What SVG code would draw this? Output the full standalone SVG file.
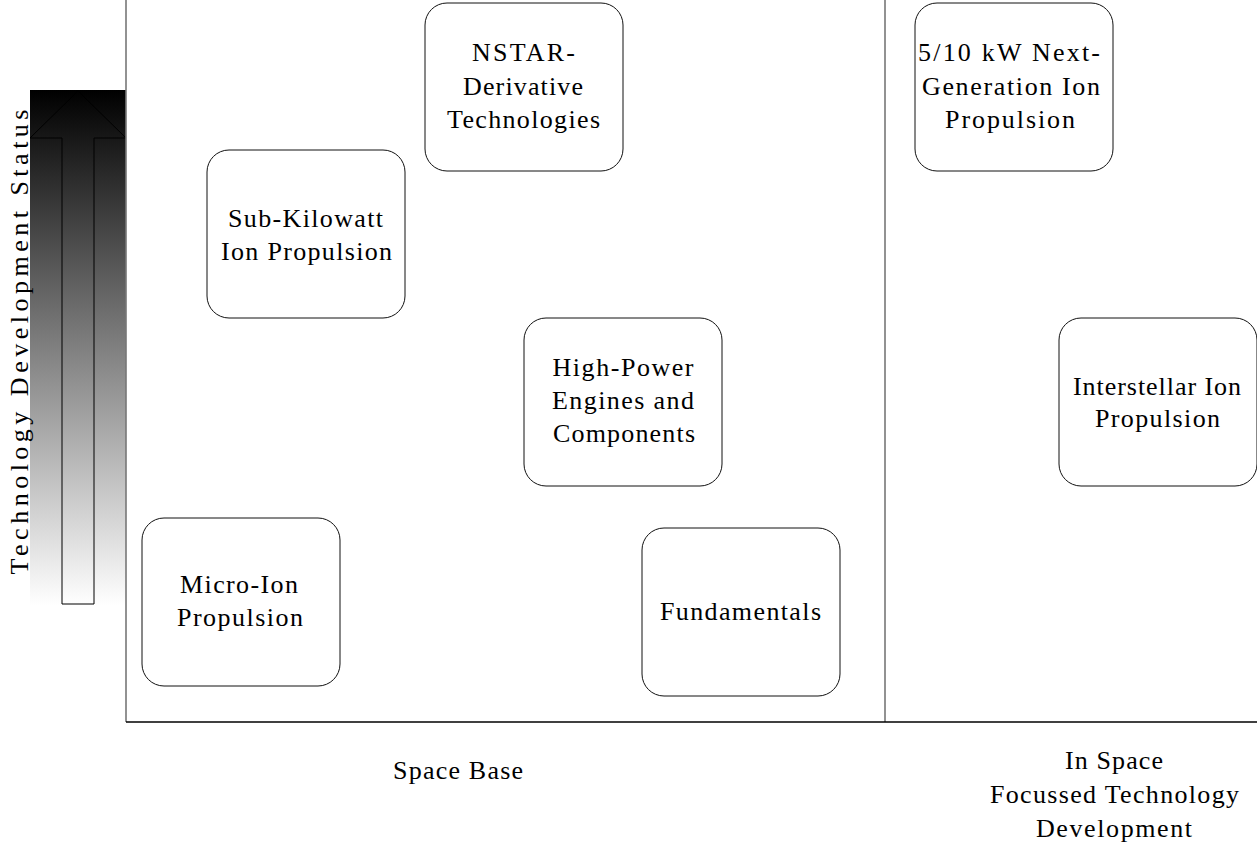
<svg xmlns="http://www.w3.org/2000/svg" width="1257" height="846" viewBox="0 0 1257 846">
<style>
.box{fill:#fff;stroke:#111;stroke-width:1}
.t{font-family:"Liberation Serif",serif;font-size:26px;fill:#000;text-anchor:middle}
.ax{stroke:#000;stroke-width:1.4;fill:none}
.gx{stroke:#777;stroke-width:1.6;fill:none}
</style>
<defs>
<linearGradient id="g" x1="0" y1="0" x2="0" y2="1">
<stop offset="0" stop-color="#000"/>
<stop offset="1" stop-color="#fff"/>
</linearGradient>
</defs>
<rect width="1257" height="846" fill="#fff"/>
<g id="status-arrow">
<rect x="30" y="90" width="96" height="515" fill="url(#g)"/>
<polygon points="78,91 126,138 94,138 94,604 62,604 62,138 30,138" fill="none" stroke="#000" stroke-width="1"/>
<text class="t" transform="translate(28,342) rotate(-90)" textLength="465" lengthAdjust="spacing">Technology Development Status</text>
</g>
<g id="connectors">
<line class="gx" x1="126" y1="0" x2="126" y2="722"/>
<line class="gx" x1="885" y1="0" x2="885" y2="722"/>
<line class="ax" x1="126" y1="722" x2="1257" y2="722"/>
</g>
<g id="nstar"><rect class="box" x="425" y="3" width="198" height="168" rx="22"/>
<text class="t" x="523.5" y="61" textLength="103" lengthAdjust="spacing">NSTAR-</text>
<text class="t" x="523" y="95" textLength="120" lengthAdjust="spacing">Derivative</text>
<text class="t" x="523.5" y="128" textLength="153" lengthAdjust="spacing">Technologies</text></g>
<g id="nextgen"><rect class="box" x="915" y="3" width="198" height="168" rx="22"/>
<text class="t" x="1009" y="61" textLength="182" lengthAdjust="spacing">5/10 kW Next-</text>
<text class="t" x="1011" y="95" textLength="178" lengthAdjust="spacing">Generation Ion</text>
<text class="t" x="1010" y="128" textLength="130" lengthAdjust="spacing">Propulsion</text></g>
<g id="subkw"><rect class="box" x="207" y="150" width="198" height="168" rx="22"/>
<text class="t" x="305.5" y="227" textLength="155" lengthAdjust="spacing">Sub-Kilowatt</text>
<text class="t" x="306.5" y="260" textLength="171" lengthAdjust="spacing">Ion Propulsion</text></g>
<g id="highpower"><rect class="box" x="524" y="318" width="198" height="168" rx="22"/>
<text class="t" x="623" y="376" textLength="141" lengthAdjust="spacing">High-Power</text>
<text class="t" x="623" y="409" textLength="142" lengthAdjust="spacing">Engines and</text>
<text class="t" x="624" y="442" textLength="142" lengthAdjust="spacing">Components</text></g>
<g id="interstellar"><rect class="box" x="1059" y="318" width="198" height="168" rx="22"/>
<text class="t" x="1157" y="395" textLength="168" lengthAdjust="spacing">Interstellar Ion</text>
<text class="t" x="1157.5" y="427" textLength="125" lengthAdjust="spacing">Propulsion</text></g>
<g id="microion"><rect class="box" x="142" y="518" width="198" height="168" rx="22"/>
<text class="t" x="239" y="593" textLength="118" lengthAdjust="spacing">Micro-Ion</text>
<text class="t" x="240" y="626" textLength="126" lengthAdjust="spacing">Propulsion</text></g>
<g id="fundamentals"><rect class="box" x="642" y="528" width="198" height="168" rx="22"/>
<text class="t" x="740.5" y="620" textLength="161" lengthAdjust="spacing">Fundamentals</text></g>
<g id="labels">
<text class="t" x="458" y="779" textLength="130" lengthAdjust="spacing">Space Base</text>
<text class="t" x="1114" y="769" textLength="98" lengthAdjust="spacing">In Space</text>
<text class="t" x="1114.5" y="803" textLength="249" lengthAdjust="spacing">Focussed Technology</text>
<text class="t" x="1114" y="837" textLength="156" lengthAdjust="spacing">Development</text>
</g>
</svg>
